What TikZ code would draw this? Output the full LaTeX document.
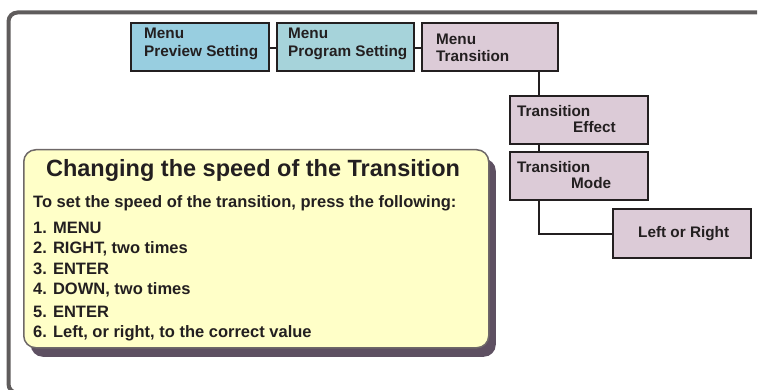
\documentclass[tikz,border=0pt]{standalone}
\usepackage{fontspec}
\setmainfont{Liberation Sans}
\usetikzlibrary{calc,shadows}
\definecolor{inkc}{RGB}{35,31,32}
\definecolor{framec}{RGB}{95,92,92}
\definecolor{bluec}{RGB}{152,206,224}
\definecolor{tealc}{RGB}{166,211,218}
\definecolor{mauvec}{RGB}{220,203,215}
\definecolor{yelc}{RGB}{255,255,200}
\definecolor{shadc}{RGB}{94,80,98}
\definecolor{ybordc}{RGB}{110,104,104}
\tikzset{
  menubox/.style={draw=inkc, line width=2.4pt, rectangle, anchor=north west, inner sep=0pt, minimum height=48pt},
  conn/.style={draw=inkc, line width=2pt},
  boxtxt/.style={anchor=base west, inner sep=0pt, text=inkc, font=\fontsize{15.3}{17}\selectfont\bfseries},
  bodytxt/.style={anchor=base west, inner sep=0pt, text=inkc, font=\fontsize{16.5}{19}\selectfont\bfseries},
  titletxt/.style={anchor=base, inner sep=0pt, text=inkc, font=\fontsize{23.5}{27}\selectfont\bfseries},
  yelbox/.style={draw=ybordc, line width=1.5pt, fill=yelc, rounded corners=12pt, anchor=north west, inner sep=0pt,
    drop shadow={shadow xshift=7pt, shadow yshift=-9pt, fill=shadc, opacity=1}},
  framel/.style={draw=framec, line width=4pt, rounded corners=9pt}
}
\begin{document}
\begin{tikzpicture}[x=1pt,y=-1pt]
\useasboundingbox (0,0) rectangle (759,390);
\clip (0,0) rectangle (759,390);
% outer frame
\draw[framel] (757,12.5) -- (8.5,12.5) -- (8.5,393) -- (40,393);
% menu boxes
\node[menubox, fill=bluec, minimum width=138pt] (prev) at (130,22) {};
\node[menubox, fill=tealc, minimum width=137pt] (prog) at (276,22) {};
\node[menubox, fill=mauvec, minimum width=136pt] (trans) at (421,22) {};
\node[menubox, fill=mauvec, minimum width=138pt] (eff) at (509,95) {};
\node[menubox, fill=mauvec, minimum width=138pt] (mode) at (509,151) {};
\node[menubox, fill=mauvec, minimum width=138pt, minimum height=49pt] (lr) at (612,208) {};
% connectors
\coordinate (v1) at ($(eff.north west)+(30,0)$);
\draw[conn] ($(prev.east)+(0,1)$) -- ($(prog.west)+(0,1)$);
\draw[conn] ($(prog.east)+(0,1)$) -- ($(trans.west)+(0,1)$);
\draw[conn] (trans.south -| v1) -- (v1);
\draw[conn] (eff.south -| v1) -- (mode.north -| v1);
\draw[conn] (mode.south -| v1) |- (lr.west);
% box texts
\node[boxtxt] (t1a) at (144,39) {Menu};
\node[boxtxt] (t1b) at (144,57) {Preview Setting};
\node[boxtxt] (t2a) at (288,39) {Menu};
\node[boxtxt] (t2b) at (288,57) {Program Setting};
\node[boxtxt] (t3a) at (436,45) {Menu};
\node[boxtxt] (t3b) at (436,62) {Transition};
\node[boxtxt] (t4a) at (517,117) {Transition};
\node[boxtxt] (t4b) at (573,133) {Effect};
\node[boxtxt] (t5a) at (517,172) {Transition};
\node[boxtxt] (t5b) at (571,188) {Mode};
\node[boxtxt] (t6) at (638,237) {Left or Right};
% yellow info box
\node[yelbox, minimum width=465pt, minimum height=198pt] (info) at (23,149) {};
\node[titletxt] (title) at (253,176) {Changing the speed of the Transition};
\node[bodytxt] (sub) at (33,207) {To set the speed of the transition, press the following:};
\node[bodytxt] (s1) at (33,233) {1. MENU};
\node[bodytxt] (s2) at (33,253) {2. RIGHT, two times};
\node[bodytxt] (s3) at (33,274) {3. ENTER};
\node[bodytxt] (s4) at (33,294) {4. DOWN, two times};
\node[bodytxt] (s5) at (33,317) {5. ENTER};
\node[bodytxt] (s6) at (33,337) {6. Left, or right, to the correct value};
\end{tikzpicture}
\end{document}
